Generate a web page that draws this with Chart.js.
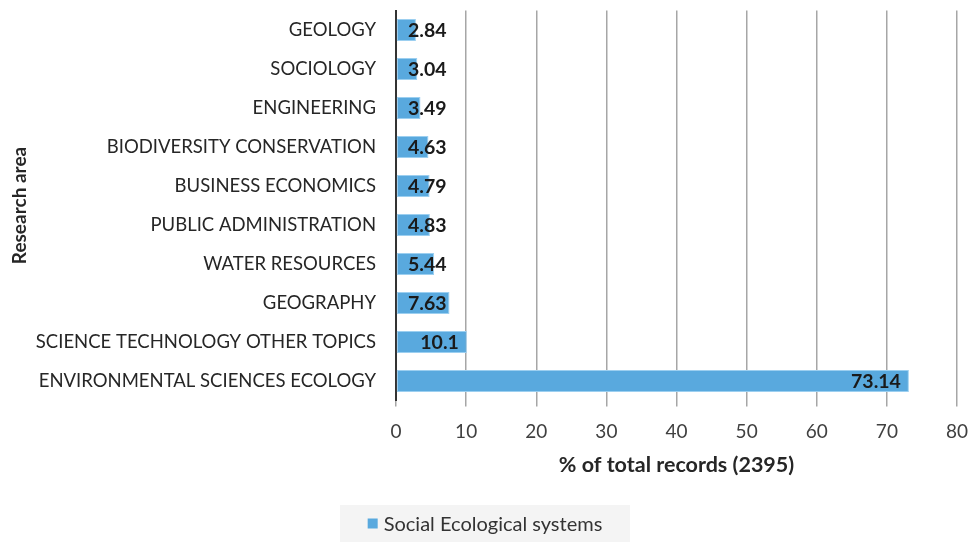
<!DOCTYPE html>
<html lang="en">
<head>
<meta charset="UTF-8">
<title>Research areas</title>
<script src="https://cdn.jsdelivr.net/npm/chart.js"></script>
<style>
    html, body {
        margin: 0;
        padding: 0;
        background: #ffffff;
    }
    .wrap {
        width: 968px;
        height: 542px;
        position: relative;
    }
</style>
</head>
<body>
<div class="wrap"><canvas id="chart"></canvas></div>
<script>
const areas = [
    'GEOLOGY',
    'SOCIOLOGY',
    'ENGINEERING',
    'BIODIVERSITY CONSERVATION',
    'BUSINESS ECONOMICS',
    'PUBLIC ADMINISTRATION',
    'WATER RESOURCES',
    'GEOGRAPHY',
    'SCIENCE TECHNOLOGY OTHER TOPICS',
    'ENVIRONMENTAL SCIENCES ECOLOGY'
];
const shares = [2.84, 3.04, 3.49, 4.63, 4.79, 4.83, 5.44, 7.63, 10.1, 73.14];
const seriesName = 'Social Ecological systems';
const xTicks = [0, 10, 20, 30, 40, 50, 60, 70, 80];

const FONT = 'Lato, "Open Sans", sans-serif';
const BAR = '#59a9de';

// value labels: right aligned inside the bar end, pushed out for short bars
const valueLabels = {
    id: 'valueLabels',
    afterDatasetsDraw(chart) {
        const ctx = chart.ctx;
        const meta = chart.getDatasetMeta(0);
        const left = chart.chartArea.left;
        ctx.save();
        ctx.font = 'bold 19.5px ' + FONT;
        ctx.fillStyle = '#1a1a1a';
        ctx.textAlign = 'right';
        ctx.textBaseline = 'middle';
        meta.data.forEach((bar, i) => {
            const txt = String(shares[i]);
            const w = ctx.measureText(txt).width;
            const x = Math.max(bar.x - 8, left + 12 + w);
            ctx.fillText(txt, x, bar.y + 1);
        });
        ctx.restore();
    }
};

// legend box under the axis title
const legendBox = {
    id: 'legendBox',
    afterDraw(chart) {
        const ctx = chart.ctx;
        ctx.save();
        ctx.font = '20px ' + FONT;
        const tw = ctx.measureText(seriesName).width;
        const sq = 10, gap = 6;
        const x0 = 340, x1 = 630, y0 = 505, y1 = 542;
        const cy = (y0 + y1) / 2;
        ctx.fillStyle = '#f4f4f4';
        ctx.fillRect(x0, y0, x1 - x0, y1 - y0);
        const start = (x0 + x1) / 2 - (sq + gap + tw) / 2;
        ctx.fillStyle = BAR;
        ctx.fillRect(start, cy - sq / 2, sq, sq);
        ctx.fillStyle = '#333333';
        ctx.textAlign = 'left';
        ctx.textBaseline = 'middle';
        ctx.fillText(seriesName, start + sq + gap, cy + 1);
        ctx.restore();
    }
};

new Chart(document.getElementById('chart'), {
    type: 'bar',
    data: {
        labels: areas,
        datasets: [{
            label: seriesName,
            data: shares,
            backgroundColor: BAR,
            borderColor: '#9ccff0',
            borderWidth: 1,
            borderSkipped: false,
            categoryPercentage: 1,
            barPercentage: 0.56
        }]
    },
    options: {
        indexAxis: 'y',
        responsive: true,
        maintainAspectRatio: false,
        animation: false,
        layout: { padding: { top: 10.5, right: 11, bottom: 61.5, left: 0 } },
        plugins: {
            legend: { display: false },
            tooltip: { enabled: false }
        },
        scales: {
            x: {
                min: 0,
                max: 80,
                afterBuildTicks(scale) {
                    scale.ticks = xTicks.map(v => ({ value: v }));
                },
                afterFit(scale) {
                    scale.height = 80;
                    scale.paddingLeft = 0;
                    scale.paddingRight = 0;
                },
                grid: {
                    color: '#a6a6a6',
                    lineWidth: 1.5,
                    drawTicks: true,
                    tickLength: 6
                },
                border: { display: false },
                ticks: {
                    padding: 14,
                    color: '#404040',
                    font: { family: FONT, size: 19 }
                },
                title: {
                    display: true,
                    text: '% of total records (2395)',
                    color: '#262626',
                    font: { family: FONT, size: 21.5, weight: 'bold' },
                    padding: { top: 0, bottom: 3 }
                }
            },
            y: {
                afterFit(scale) {
                    scale.width = 396;
                    scale.paddingTop = 0;
                    scale.paddingBottom = 0;
                },
                grid: { display: false, drawTicks: false },
                border: { display: true, color: '#333333', width: 2 },
                ticks: {
                    padding: 20,
                    color: '#262626',
                    font: { family: FONT, size: 18.5 }
                },
                title: {
                    display: true,
                    text: 'Research area',
                    color: '#262626',
                    font: { family: FONT, size: 19, weight: 'bold' },
                    padding: { top: 8, bottom: 0 }
                }
            }
        }
    },
    plugins: [valueLabels, legendBox]
});
</script>
</body>
</html>
